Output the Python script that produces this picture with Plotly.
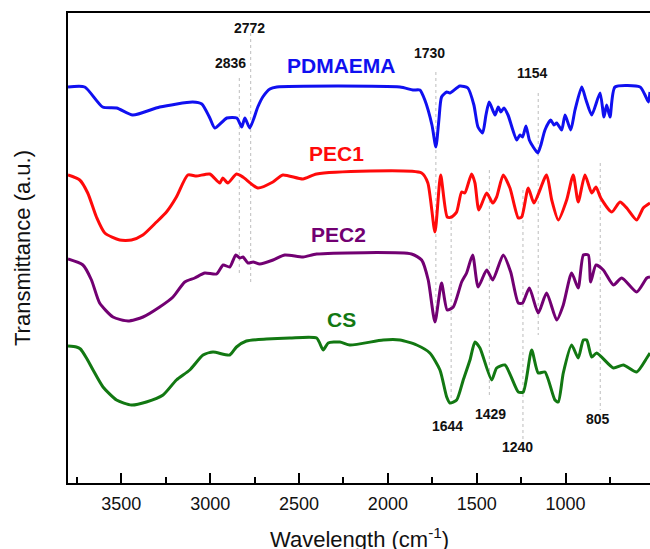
import plotly.graph_objects as go

# ---------------- data (wavenumber cm-1, transmittance a.u. with offsets) ----------------
pdmaema_x = [3800, 3706, 3605, 3526, 3436, 3284, 3098, 3047, 3002, 2974, 2906, 2850, 2822, 2805, 2777,
             2732, 2704, 2664, 2625, 1932, 1859, 1820, 1792, 1752, 1730, 1713, 1698, 1669, 1651, 1595,
             1550, 1516, 1493, 1467, 1448, 1430, 1397, 1379, 1364, 1347, 1324, 1275, 1257, 1242, 1223,
             1204, 1182, 1156, 1139, 1116, 1084, 1065, 1050, 1022, 1003, 971, 947, 909, 885, 853, 806,
             784, 769, 750, 722, 581, 553, 534, 525]
pdmaema_y = [396, 396, 376, 375, 368, 376, 381, 379, 365, 355, 365, 365, 356, 365, 355,
             376, 386, 394, 396, 396, 393, 393, 383, 358, 336, 363, 386, 391, 390, 397,
             395, 378, 356, 350, 368, 381, 368, 376, 371, 375, 368, 343, 348, 346, 357,
             343, 336, 330, 338, 353, 363, 358, 360, 353, 368, 353, 373, 396, 383, 368, 390,
             366, 378, 366, 396, 396, 388, 381, 391]

pec1_x = [3800, 3734, 3689, 3640, 3593, 3509, 3443, 3379, 3302, 3246, 3190, 3126, 3077, 3002, 2946,
          2929, 2901, 2852, 2816, 2732, 2647, 2591, 2478, 2401, 1810, 1775, 1735, 1703, 1666, 1641,
          1613, 1585, 1567, 1529, 1510, 1488, 1444, 1410, 1388, 1351, 1313, 1266, 1247, 1210, 1178,
          1107, 1078, 1041, 994, 957, 929, 891, 853, 829, 802, 740, 694, 656, 600, 563, 525]
pec1_y = [308, 303, 290, 266, 250, 243, 243, 248, 261, 271, 286, 308, 307, 309, 300,
          305, 300, 309, 306, 295, 301, 308, 304, 309, 310, 300, 251, 308, 266, 266,
          271, 291, 290, 309, 300, 273, 290, 280, 286, 308, 295, 265, 266, 295, 280,
          308, 283, 263, 283, 308, 281, 308, 290, 296, 285, 271, 281, 275, 263, 275, 280]

pec2_x = [3800, 3716, 3668, 3622, 3547, 3462, 3378, 3284, 3209, 3143, 3087, 3030, 2964, 2927, 2890,
          2856, 2833, 2815, 2787, 2758, 2721, 2646, 2580, 2477, 2401, 1867, 1810, 1773, 1735, 1698,
          1666, 1632, 1585, 1557, 1523, 1492, 1444, 1410, 1351, 1309, 1266, 1242, 1204, 1154, 1107,
          1050, 1013, 966, 929, 900, 872, 859, 829, 788, 731, 684, 600, 543, 525]
pec2_y = [224, 218, 203, 180, 166, 162, 166, 176, 186, 201, 205, 210, 209, 218, 216,
          228, 225, 226, 220, 221, 219, 223, 228, 226, 229, 229, 223, 203, 161, 200,
          173, 176, 201, 210, 228, 196, 213, 203, 228, 211, 180, 180, 195, 170, 190,
          163, 178, 210, 195, 228, 228, 201, 218, 213, 198, 205, 191, 205, 206]

cs_x = [3800, 3753, 3730, 3696, 3659, 3603, 3527, 3443, 3359, 3265, 3190, 3115, 3040, 2984, 2890,
        2852, 2796, 2683, 2552, 2401, 2364, 2336, 2270, 2214, 2026, 1932, 1838, 1764, 1707, 1669,
        1651, 1613, 1576, 1538, 1510, 1482, 1416, 1388, 1341, 1266, 1238, 1191, 1154, 1116, 1060,
        1041, 1013, 966, 929, 900, 881, 853, 825, 731, 675, 600, 543, 525]
cs_y = [137, 136, 134, 125, 113, 96, 83, 78, 81, 88, 103, 113, 128, 131, 128,
        136, 142, 144, 145, 145, 133, 140, 141, 138, 143, 143, 138, 130, 113, 86,
        80, 83, 103, 123, 141, 135, 103, 115, 118, 91, 91, 133, 110, 111, 83,
        81, 110, 138, 125, 143, 143, 126, 130, 115, 118, 111, 125, 130]

# marked peaks: wavenumber, dotted guide extent (top / bottom)
peak_wn = [2836, 2772, 1730, 1644, 1429, 1240, 1154, 805]
peak_top = [405, 450, 411, 268, 313, 293, 390, 320]
peak_bottom = [210, 200, 163, 78, 88, 43, 148, 73]

# peak label texts and their anchor positions
peak_text = ["2836", "2772", "1730", "1154", "1644", "1429", "1240", "805"]
peak_text_x = [2884, 2777, 1764, 1184, 1664, 1420, 1270, 816]
peak_text_y = [420, 455, 430, 410, 57, 69, 36, 64]

series_names = ["PDMAEMA", "PEC1", "PEC2", "CS"]
series_colors = ["#1010F0", "#FF0A0A", "#720072", "#127812"]
name_x = [2262, 2287, 2276, 2259]
name_y = [418, 330, 249, 164]

x_ticks = [3500, 3000, 2500, 2000, 1500, 1000]

FONT = "Arial, Liberation Sans, Helvetica, sans-serif"

fig = go.Figure()

# dotted guide lines
gx, gy = [], []
for w, t, b in zip(peak_wn, peak_top, peak_bottom):
    gx += [w, w, None]
    gy += [t, b, None]
fig.add_trace(go.Scatter(x=gx, y=gy, mode="lines",
                         line=dict(color="#B5B5B5", width=0.9, dash="dot"),
                         hoverinfo="skip", showlegend=False))

for xs, ys, nm, col in zip([pdmaema_x, pec1_x, pec2_x, cs_x],
                           [pdmaema_y, pec1_y, pec2_y, cs_y],
                           series_names, series_colors):
    fig.add_trace(go.Scatter(x=xs, y=ys, mode="lines", name=nm,
                             line=dict(color=col, width=3, shape="spline", smoothing=0.6),
                             showlegend=False))

annotations = []
for t, x, y in zip(peak_text, peak_text_x, peak_text_y):
    annotations.append(dict(x=x, y=y, xref="x", yref="y", text="<b>%s</b>" % t, showarrow=False,
                            font=dict(family=FONT, size=14, color="#111111")))
for nm, col, x, y in zip(series_names, series_colors, name_x, name_y):
    annotations.append(dict(x=x, y=y, xref="x", yref="y", text="<b>%s</b>" % nm, showarrow=False,
                            font=dict(family=FONT, size=21, color=col)))
annotations.append(dict(x=0.5, y=-0.118, xref="paper", yref="paper",
                        text="Wavelength (cm<sup>-1</sup>)", showarrow=False,
                        xanchor="center", yanchor="middle",
                        font=dict(family=FONT, size=22, color="#111111")))
annotations.append(dict(x=-0.079, y=0.5, xref="paper", yref="paper",
                        text="Transmittance (a.u.)", showarrow=False, textangle=-90,
                        xanchor="center", yanchor="middle",
                        font=dict(family=FONT, size=22, color="#111111")))

fig.update_layout(
    width=650, height=549,
    margin=dict(l=68, r=0, t=13, b=66),
    paper_bgcolor="white", plot_bgcolor="white",
    font=dict(family=FONT, color="#111111"),
    annotations=annotations,
    showlegend=False,
)
fig.update_xaxes(range=[3800, 525], tickvals=x_ticks, ticks="inside", ticklen=10, tickwidth=1.5,
                 tickcolor="black", showline=True, linecolor="black", linewidth=1.5, mirror=True,
                 showgrid=False, zeroline=False, ticklabelstandoff=4,
                 tickfont=dict(size=18, family=FONT, color="#111111"),
                 minor=dict(dtick=250, tick0=0, ticks="inside", ticklen=6, tickwidth=1.5, tickcolor="black"))
fig.update_yaxes(range=[0, 470], showticklabels=False, ticks="", showline=True, linecolor="black",
                 linewidth=1.5, mirror=False, showgrid=False, zeroline=False)

fig.write_html("out.html")
